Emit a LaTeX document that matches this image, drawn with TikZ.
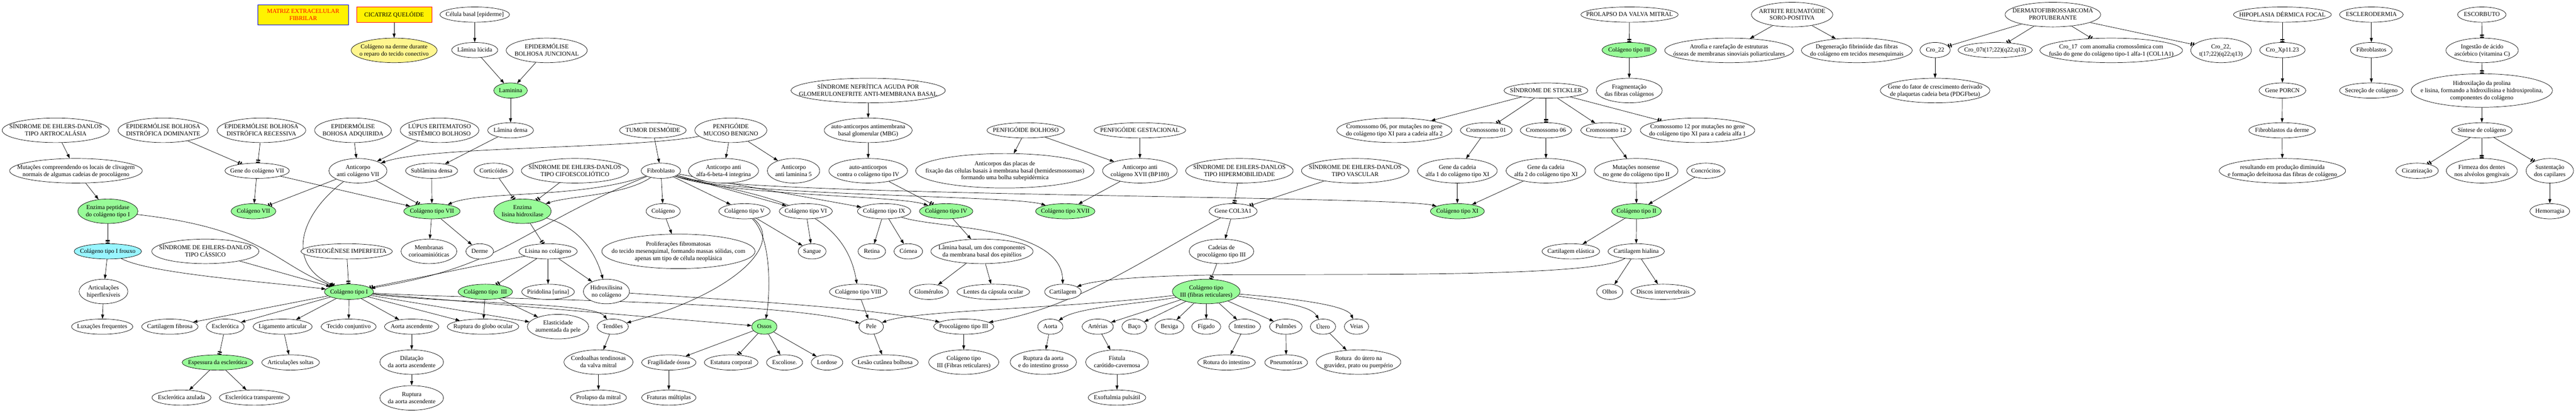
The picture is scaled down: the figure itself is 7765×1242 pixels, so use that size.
\documentclass[tikz,border=0pt]{standalone}
\usepackage{fontspec}
\setmainfont{Liberation Serif}
\usetikzlibrary{shapes.geometric,arrows.meta}
\pgfdeclarelayer{bg}
\pgfsetlayers{bg,main}
\definecolor{pgreen}{HTML}{98FB98}
\definecolor{pcyan}{HTML}{98F5FF}
\definecolor{pkhaki}{HTML}{FFF68F}
\newcommand{\lbl}[1]{\smash{\makebox[0pt]{\raisebox{-5.5pt}{\begin{tabular}{@{}c@{}}#1\end{tabular}}}}}
\newcommand{\nd}[7]{\node[#1,minimum width=#5pt,minimum height=#6pt] (#2) at (#3,#4) {\lbl{#7}};}
\tikzset{
  plainell/.style={shape=ellipse,draw=black,line width=1.1pt,fill=white,inner sep=0pt,font=\fontsize{18.3}{21.5}\selectfont},
  greenell/.style={plainell,fill=pgreen},
  cyanell/.style={plainell,fill=pcyan},
  khakiell/.style={plainell,fill=pkhaki},
  ybox/.style={shape=rectangle,fill=yellow,line width=1.1pt,inner sep=0pt,font=\fontsize{18.3}{21.5}\selectfont},
  arN/.style={-{Triangle[length=13pt,width=9pt]},line width=1.1pt},
  arT/.style={-{Rectangle[length=3.5pt,width=12pt,sep=3pt]Rectangle[length=3.5pt,width=12pt]},line width=1.1pt}
}
\begin{document}
\begin{tikzpicture}[x=1pt,y=-1pt]
\useasboundingbox (0,0) rectangle (7765,1242);
% ---------- title boxes ----------
\nd{ybox,draw=blue,text=red}{matriz}{914}{44.5}{274}{61}{MATRIZ EXTRACELULAR\\FIBRILAR}
\nd{ybox,draw=red}{cicatriz}{1188}{44}{227}{48}{CICATRIZ QUELÓIDE}
\nd{khakiell}{derme1}{1188}{152}{259}{74}{Colágeno na derme durante\\o reparo do tecido conectivo}
% ---------- top rows ----------
\nd{plainell}{celbasal}{1431}{44}{210}{46}{Célula basal [epiderme]}
\nd{plainell}{lamluc}{1431}{151}{139}{46}{Lâmina lúcida}
\nd{plainell}{ebjunc}{1648}{152}{244}{74}{EPIDERMÓLISE\\BOLHOSA JUNCIONAL}
\nd{greenell}{laminina}{1539}{273}{101}{46}{Laminina}
\nd{plainell}{lamdensa}{1539}{393}{138}{46}{Lâmina densa}
\nd{plainell}{sedartro}{168}{393}{323}{74}{SÍNDROME DE EHLERS-DANLOS\\TIPO ARTROCALÁSIA}
\nd{plainell}{ebdom}{492}{393}{272}{74}{EPIDERMÓLISE BOLHOSA\\DISTRÓFICA DOMINANTE}
\nd{plainell}{ebrec}{788}{393}{267}{74}{EPIDERMÓLISE BOLHOSA\\DISTRÓFICA RECESSIVA}
\nd{plainell}{ebadq}{1064}{393}{231}{74}{EPIDERMÓLISE\\BOHOSA ADQUIRIDA}
\nd{plainell}{lupus}{1325}{393}{237}{74}{LÚPUS ERITEMATOSO\\SISTÊMICO BOLHOSO}
\nd{plainell}{tumor}{1968}{393}{201}{46}{TUMOR DESMÓIDE}
\nd{plainell}{pmb}{2203}{393}{217}{74}{PENFIGÓIDE\\MUCOSO BENIGNO}
\nd{plainell}{snef}{2617}{273}{465}{74}{SÍNDROME NEFRÍTICA AGUDA POR\\GLOMERULONEFRITE ANTI-MEMBRANA BASAL}
\nd{plainell}{aambg}{2617}{393}{265}{74}{auto-anticorpos antimembrana\\basal glomerular (MBG)}
\nd{plainell}{pbol}{3092}{393}{234}{46}{PENFIGÓIDE BOLHOSO}
\nd{plainell}{pgest}{3436}{393}{276}{46}{PENFIGÓIDE GESTACIONAL}
% ---------- row 515 ----------
\nd{plainell}{mutcliv}{229}{515}{400}{74}{Mutações compreendendo os locais de clivagem\\normais de algumas cadeias de procolágeno}
\nd{plainell}{genec7}{775}{515}{194}{46}{Gene do colágeno VII}
\nd{plainell}{antic7}{1079}{515}{175}{74}{Anticorpo\\anti colágeno VII}
\nd{plainell}{sublam}{1301}{515}{157}{46}{Sublâmina densa}
\nd{plainell}{cortic}{1488}{515}{118}{46}{Corticóides}
\nd{plainell}{sedcifo}{1733}{515}{323}{74}{SÍNDROME DE EHLERS-DANLOS\\TIPO CIFOESCOLIÓTICO}
\nd{plainell}{fibro}{1992}{515}{119}{46}{Fibroblasto}
\nd{plainell}{aa64}{2181}{515}{211}{74}{Anticorpo anti\\alfa-6-beta-4 integrina}
\nd{plainell}{alam5}{2392}{515}{158}{74}{Anticorpo\\anti laminina 5}
\nd{plainell}{aac4}{2617}{515}{237}{74}{auto-anticorpos\\contra o colágeno tipo IV}
\nd{plainell}{aplacas}{3029}{515}{538}{104}{Anticorpos das placas de\\fixação das células basais à membrana basal (hemidesmossomas)\\formando uma bolha subepidérmica}
\nd{plainell}{ac17}{3436}{515}{225}{74}{Anticorpo anti\\colágeno XVII (BP180)}
\nd{plainell}{sedhiper}{3736}{515}{324}{74}{SÍNDROME DE EHLERS-DANLOS\\TIPO HIPERMOBILIDADE}
\nd{plainell}{sedvasc}{4085}{515}{324}{74}{SÍNDROME DE EHLERS-DANLOS\\TIPO VASCULAR}
\nd{plainell}{genea1}{4393}{515}{240}{74}{Gene da cadeia\\alfa 1 do colágeno tipo XI}
\nd{plainell}{genea2}{4660}{515}{240}{74}{Gene da cadeia\\alfa 2 do colágeno tipo XI}
\nd{plainell}{mutnon}{4932}{515}{252}{74}{Mutações nonsense\\no gene do colágeno tipo II}
\nd{plainell}{concro}{5142}{515}{116}{46}{Concrócitos}
% ---------- row 637 ----------
\nd{greenell}{peptid}{325}{637}{181}{74}{Enzima peptidase\\do colágeno tipo I}
\nd{greenell}{col7}{764}{637}{135}{46}{Colágeno VII}
\nd{greenell}{coltipo7}{1302}{637}{170}{46}{Colágeno tipo VII}
\nd{greenell}{lisinahid}{1575}{637}{173}{74}{Enzima\\lisina hidroxilase}
\nd{plainell}{colageno}{1999}{637}{103}{46}{Colágeno}
\nd{plainell}{col5}{2244}{637}{155}{46}{Colágeno tipo V}
\nd{plainell}{col6}{2429}{637}{160}{46}{Colágeno tipo VI}
\nd{plainell}{col9}{2665}{637}{161}{46}{Colágeno tipo IX}
\nd{greenell}{col4}{2852}{637}{161}{46}{Colágeno tipo IV}
\nd{greenell}{col17}{3211}{637}{179}{46}{Colágeno tipo XVII}
\nd{plainell}{col3a1}{3717}{637}{145}{46}{Gene COL3A1}
\nd{greenell}{col11}{4393}{637}{163}{46}{Colágeno tipo XI}
\nd{greenell}{col2}{4933}{637}{150}{46}{Colágeno tipo II}
% ---------- row 758 ----------
\nd{cyanell}{frouxo}{325}{758}{203}{46}{Colágeno tipo I frouxo}
\nd{plainell}{sedcass}{619}{758}{323}{74}{SÍNDROME DE EHLERS-DANLOS\\TIPO CÁSSICO}
\nd{plainell}{osteo}{1045}{758}{275}{46}{OSTEOGÊNESE IMPERFEITA}
\nd{plainell}{membr}{1293}{758}{168}{74}{Membranas\\corioaminióticas}
\nd{plainell}{derme}{1446}{758}{83}{46}{Derme}
\nd{plainell}{lisina}{1652}{758}{176}{46}{Lisina no colágeno}
\nd{plainell}{prolif}{2045}{758}{462}{104}{Proliferações fibromatosas\\do tecido mesenquimal, formando massas sólidas, com\\apenas um tipo de célula neoplásica}
\nd{plainell}{sangue}{2448}{758}{84}{46}{Sangue}
\nd{plainell}{retina}{2628}{758}{83}{46}{Retina}
\nd{plainell}{cornea}{2738}{758}{86}{46}{Córnea}
\nd{plainell}{lambasal}{2960}{758}{308}{74}{Lâmina basal, um dos componentes\\da membrana basal dos epitélios}
\nd{plainell}{cadeias}{3682}{758}{195}{74}{Cadeias de\\procolágeno tipo III}
\nd{plainell}{cartelas}{4735}{758}{174}{46}{Cartilagem elástica}
\nd{plainell}{carthial}{4932}{758}{170}{46}{Cartilagem hialina}
% ---------- row 880 ----------
\nd{plainell}{articul}{312}{879}{147}{74}{Articulações\\hiperflexíveis}
\nd{greenell}{col1}{1052}{880}{148}{46}{Colágeno tipo I}
\nd{greenell}{col3}{1463}{880}{164}{46}{Colágeno tipo\ \ III}
\nd{plainell}{piridol}{1652}{880}{159}{46}{Piridolina [urina]}
\nd{plainell}{hidroxil}{1828}{879}{139}{74}{Hidroxilisina\\no colágeno}
\nd{plainell}{col8}{2587}{880}{174}{46}{Colágeno tipo VIII}
\nd{plainell}{glomer}{2800}{880}{118}{46}{Glomérulos}
\nd{plainell}{lentes}{2994}{880}{219}{46}{Lentes da cápsula ocular}
\nd{plainell}{cartil}{3204}{880}{110}{46}{Cartilagem}
\nd{greenell}{col3fib}{3636}{879}{204}{74}{Colágeno tipo\\III (fibras reticulares)}
\nd{plainell}{olhos}{4852}{880}{79}{46}{Olhos}
\nd{plainell}{discos}{5013}{880}{194}{46}{Discos intervertebrais}
% ---------- row 985 ----------
\nd{plainell}{luxa}{308}{985}{185}{46}{Luxações frequentes}
\nd{plainell}{cartfib}{512}{985}{170}{46}{Cartilagem fibrosa}
\nd{plainell}{escler}{679}{985}{114}{46}{Esclerótica}
\nd{plainell}{ligam}{852}{985}{178}{46}{Ligamento articular}
\nd{plainell}{tecido}{1051}{985}{166}{46}{Tecido conjuntivo}
\nd{plainell}{aortaasc}{1241}{985}{164}{46}{Aorta ascendente}
\nd{plainell}{rupglobo}{1456}{985}{216}{46}{Ruptura do globo ocular}
\nd{plainell}{elastic}{1682}{985}{185}{74}{Elasticidade\\aumentada da pele}
\nd{plainell}{tendoes}{1847}{985}{94}{46}{Tendões}
\nd{greenell}{ossos}{2304}{985}{76}{46}{Ossos}
\nd{plainell}{pele}{2626}{985}{74}{46}{Pele}
\nd{plainell}{procol}{2905}{985}{181}{46}{Procolágeno tipo III}
\nd{plainell}{aorta}{3166}{985}{76}{46}{Aorta}
\nd{plainell}{arterias}{3309}{985}{94}{46}{Artérias}
\nd{plainell}{baco}{3419}{985}{74}{46}{Baço}
\nd{plainell}{bexiga}{3525}{985}{87}{46}{Bexiga}
\nd{plainell}{figado}{3636}{985}{87}{46}{Fígado}
\nd{plainell}{intest}{3752}{985}{95}{46}{Intestino}
\nd{plainell}{pulm}{3876}{985}{98}{46}{Pulmões}
\nd{plainell}{utero}{3988}{985}{76}{46}{Útero}
\nd{plainell}{veias}{4089}{985}{73}{46}{Veias}
% ---------- row 1093 ----------
\nd{greenell}{espess}{656}{1093}{214}{46}{Espessura da esclerótica}
\nd{plainell}{artsoltas}{876}{1093}{174}{46}{Articulações soltas}
\nd{plainell}{dilat}{1241}{1092}{192}{74}{Dilatação\\da aorta ascendente}
\nd{plainell}{cordo}{1804}{1092}{208}{74}{Cordoalhas tendinosas\\da valva mitral}
\nd{plainell}{fragil}{2016}{1093}{164}{46}{Fragilidade óssea}
\nd{plainell}{estatura}{2204}{1093}{162}{46}{Estatura corporal}
\nd{plainell}{escol}{2365}{1093}{109}{46}{Escoliose.}
\nd{plainell}{lordose}{2493}{1093}{95}{46}{Lordose}
\nd{plainell}{lesao}{2668}{1093}{200}{46}{Lesão cutânea bolhosa}
\nd{plainell}{col3ret}{2905}{1092}{211}{74}{Colágeno tipo\\III (Fibras reticulares)}
\nd{plainell}{rupaorta}{3145}{1092}{200}{74}{Ruptura da aorta\\e do intestino grosso}
\nd{plainell}{fistula}{3367}{1092}{189}{74}{Fístula\\carótido-cavernosa}
\nd{plainell}{rotint}{3697}{1093}{174}{46}{Rotura do intestino}
\nd{plainell}{pneumo}{3877}{1093}{129}{46}{Pneumotórax}
\nd{plainell}{rotutero}{4095}{1092}{255}{74}{Rotura\ \ do útero na\\gravidez, prato ou puerpério}
% ---------- row 1199 ----------
\nd{plainell}{esclaz}{547}{1199}{178}{46}{Esclerótica azulada}
\nd{plainell}{escltr}{767}{1199}{212}{46}{Esclerótica transparente}
\nd{plainell}{ruptasc}{1241}{1200}{192}{74}{Ruptura\\da aorta ascendente}
\nd{plainell}{prolapso}{1804}{1199}{169}{46}{Prolapso da mitral}
\nd{plainell}{fratura}{2016}{1199}{164}{46}{Fraturas múltiplas}
\nd{plainell}{exoft}{3367}{1199}{174}{46}{Exoftalmia pulsátil}
% ---------- right part ----------
\nd{plainell}{pvm}{4912}{44}{293}{46}{PROLAPSO DA VALVA MITRAL}
\nd{greenell}{col3b}{4911}{151}{164}{46}{Colágeno tipo III}
\nd{plainell}{atrofia}{5212}{152}{388}{74}{Atrofia e rarefação de estruturas\\ósseas de membranas sinoviais poliarticulares}
\nd{plainell}{fragm}{4911}{273}{199}{74}{Fragmentação\\das fibras colágenos}
\nd{plainell}{stickler}{4660}{273}{253}{46}{SÍNDROME DE STICKLER}
\nd{plainell}{cr06m}{4203}{393}{347}{74}{Cromossomo 06, por mutações no gene\\do colágeno tipo XI para a cadeia alfa 2}
\nd{plainell}{cr01}{4480}{393}{156}{46}{Cromossomo 01}
\nd{plainell}{cr06}{4660}{393}{155}{46}{Cromossomo 06}
\nd{plainell}{cr12}{4841}{393}{152}{46}{Cromossomo 12}
\nd{plainell}{cr12m}{5117}{393}{345}{74}{Cromossomo 12 por mutações no gene\\do colágeno tipo XI para a cadeia alfa 1}
\nd{plainell}{artrite}{5402}{44}{245}{74}{ARTRITE REUMATÓIDE\\SORO-POSITIVA}
\nd{plainell}{degen}{5597}{152}{334}{74}{Degeneração fibrinóide das fibras\\do colágeno em tecidos mesenquimais}
\nd{plainell}{dermato}{6188}{44}{288}{74}{DERMATOFIBROSSARCOMA\\PROTUBERANTE}
\nd{plainell}{cro22}{5833}{151}{91}{46}{Cro\_22}
\nd{plainell}{cro07}{6014}{151}{224}{46}{Cro\_07t(17;22)(q22;q13)}
\nd{plainell}{cro17}{6364}{152}{430}{74}{Cro\_17\ \ com anomalia cromossômica com\\fusão do gene do colágeno tipo-1 alfa-1 (COL1A1)}
\nd{plainell}{pdgf}{5833}{273}{330}{74}{Gene do fator de crescimento derivado\\de plaquetas cadeia beta (PDGFbeta)}
\nd{plainell}{cro22t}{6695}{152}{183}{74}{Cro\_22,\\t(17;22)(q22;q13)}
\nd{plainell}{hipo}{6880}{44}{295}{46}{HIPOPLASIA DÉRMICA FOCAL}
\nd{plainell}{escdermia}{7148}{44}{192}{46}{ESCLERODERMIA}
\nd{plainell}{escorb}{7481}{44}{146}{46}{ESCORBUTO}
\nd{plainell}{croxp}{6880}{151}{137}{46}{Cro\_Xp11.23}
\nd{plainell}{fibros}{7148}{151}{126}{46}{Fibroblastos}
\nd{plainell}{ingest}{7482}{152}{218}{74}{Ingestão de ácido\\ascórbico (vitamina C)}
\nd{plainell}{porcn}{6880}{273}{141}{46}{Gene PORCN}
\nd{plainell}{secrec}{7148}{273}{192}{46}{Secreção de colágeno}
\nd{plainell}{hidrox}{7481}{273}{426}{101}{Hidroxilação da prolina\\e lisina, formando a hidroxilisina e hidroxiprolina,\\componentes do colágeno}
\nd{plainell}{fibderme}{6879}{393}{201}{46}{Fibroblastos da derme}
\nd{plainell}{sintese}{7481}{393}{183}{46}{Síntese de colágeno}
\nd{plainell}{result}{6880}{515}{381}{74}{resultando em produção diminuída\\e formação defeituosa das fibras de colágeno}
\nd{plainell}{cicat}{7286}{515}{128}{46}{Cicatrização}
\nd{plainell}{firmeza}{7481}{515}{214}{74}{Firmeza dos dentes\\nos alvéolos gengivais}
\nd{plainell}{sust}{7686}{515}{143}{74}{Sustentação\\dos capilares}
\nd{plainell}{hemorr}{7686}{637}{120}{46}{Hemorragia}
% ================= edges =================
\begin{pgfonlayer}{bg}
\fill[white] (0,0) rectangle (7765,1242);
\draw[arN] (cicatriz) -- (derme1);
\draw[arN] (celbasal) -- (lamluc);
\draw[arN] (lamluc) -- (laminina);
\draw[arN] (ebjunc) -- (laminina);
\draw[arN] (laminina) -- (lamdensa);
\draw[arN] (lamdensa) -- (sublam);
\draw[arN] (sedartro) -- (mutcliv);
\draw[arN] (mutcliv) -- (peptid);
\draw[arT] (ebdom) -- (genec7);
\draw[arT] (ebrec) -- (genec7);
\draw[arN] (ebadq) -- (antic7);
\draw[arN] (lupus) -- (antic7);
\draw[arN] (pmb) .. controls (1900,450) and (1300,440) .. (antic7);
\draw[arN] (genec7) -- (col7);
\draw[arN] (genec7) -- (coltipo7);
\draw[arT] (antic7) -- (col7);
\draw[arT] (antic7) -- (coltipo7);
\draw[arT] (antic7) .. controls (900,650) and (860,800) .. (col1);
\draw[arN] (sublam) -- (coltipo7);
\draw[arN] (coltipo7) -- (membr);
\draw[arN] (coltipo7) -- (derme);
\draw[arT] (peptid) -- (frouxo);
\draw[arT] (peptid) .. controls (800,690) and (830,800) .. (col1);
\draw[arN] (frouxo) -- (articul);
\draw[arN] (frouxo) .. controls (450,825) and (800,850) .. (col1);
\draw[arN] (articul) -- (luxa);
\draw[arN] (sedcass) -- (col1);
\draw[arT] (osteo) -- (col1);
\draw[arN] (col1) -- (cartfib);
\draw[arN] (col1) -- (escler);
\draw[arN] (col1) -- (ligam);
\draw[arN] (col1) -- (tecido);
\draw[arN] (col1) -- (aortaasc);
\draw[arN] (col1) -- (rupglobo);
\draw[arN] (col1) -- (elastic);
\draw[arN] (col1) .. controls (1400,918) and (1790,912) .. (tendoes);
\draw[arN] (col1) -- (ossos);
\draw[arN] (col1) .. controls (1500,905) and (2350,905) .. (pele);
\draw[arT] (escler) -- (espess);
\draw[arN] (espess) -- (esclaz);
\draw[arN] (espess) -- (escltr);
\draw[arN] (ligam) -- (artsoltas);
\draw[arN] (aortaasc) -- (dilat);
\draw[arN] (dilat) -- (ruptasc);
\draw[arN] (tumor) -- (fibro);
\draw[arN] (pmb) -- (aa64);
\draw[arN] (pmb) -- (alam5);
\draw[arT] (cortic) -- (lisinahid);
\draw[arT] (sedcifo) -- (lisinahid);
\draw[arN] (fibro) .. controls (1750,600) and (1450,575) .. (coltipo7);
\draw[arN] (fibro) .. controls (1880,590) and (1720,590) .. (lisinahid);
\draw[arN] (fibro) .. controls (1560,690) and (1530,800) .. (col1);
\draw[arN] (fibro) -- (colageno);
\draw[arN] (fibro) -- (col5);
\draw[arN] (fibro) -- (col6);
\draw[arN] (fibro) -- (col9);
\draw[arN] (fibro) .. controls (2200,592) and (2700,588) .. (col4);
\draw[arN] (fibro) .. controls (2200,592) and (3050,588) .. (col17);
\draw[arN] (fibro) .. controls (2200,592) and (4200,590) .. (col11);
\draw[arN] (fibro) .. controls (2250,590) and (2540,600) .. (col8);
\draw[arT] (lisinahid) -- (lisina);
\draw[arN] (lisinahid) .. controls (1760,690) and (1800,780) .. (hidroxil);
\draw[arN] (lisina) -- (piridol);
\draw[arN] (lisina) -- (hidroxil);
\draw[arT] (lisina) -- (col3);
\draw[arT] (lisina) -- (col1);
\draw[arN] (col3) -- (rupglobo);
\draw[arN] (col3) -- (elastic);
\draw[arN] (hidroxil) .. controls (2200,905) and (2600,925) .. (procol);
\draw[arN] (colageno) -- (prolif);
\draw[arN] (col5) -- (sangue);
\draw[arN] (col6) -- (sangue);
\draw[arN] (col5) .. controls (2370,740) and (2200,890) .. (tendoes);
\draw[arN] (col5) .. controls (2330,720) and (2320,900) .. (ossos);
\draw[arN] (col9) -- (retina);
\draw[arN] (col9) -- (cornea);
\draw[arN] (col9) .. controls (2820,690) and (3200,680) .. (cartil);
\draw[arN] (col4) -- (lambasal);
\draw[arN] (lambasal) -- (glomer);
\draw[arN] (lambasal) -- (lentes);
\draw[arN] (col8) -- (pele);
\draw[arN] (snef) -- (aambg);
\draw[arN] (aambg) -- (aac4);
\draw[arT] (aac4) -- (col4);
\draw[arN] (pbol) -- (aplacas);
\draw[arN] (pbol) -- (ac17);
\draw[arN] (pgest) -- (ac17);
\draw[arN] (ac17) -- (col17);
\draw[arT] (sedhiper) -- (col3a1);
\draw[arT] (sedvasc) -- (col3a1);
\draw[arN] (col3a1) -- (cadeias);
\draw[arN] (col3a1) .. controls (3450,780) and (3250,925) .. (procol);
\draw[arT] (cadeias) -- (col3fib);
\draw[arN] (carthial) .. controls (4820,828) and (4300,828) .. (3800,828) .. controls (3450,828) and (3300,845) .. (cartil);
\draw[arN] (col3fib) .. controls (3200,932) and (2760,935) .. (pele);
\draw[arN] (col3fib) .. controls (3450,915) and (3250,925) .. (aorta);
\draw[arN] (col3fib) -- (arterias);
\draw[arN] (col3fib) -- (baco);
\draw[arN] (col3fib) -- (bexiga);
\draw[arN] (col3fib) -- (figado);
\draw[arN] (col3fib) -- (intest);
\draw[arN] (col3fib) -- (pulm);
\draw[arN] (col3fib) .. controls (3850,910) and (3950,920) .. (utero);
\draw[arN] (col3fib) .. controls (3900,900) and (4060,920) .. (veias);
\draw[arN] (pele) -- (lesao);
\draw[arN] (procol) -- (col3ret);
\draw[arN] (aorta) -- (rupaorta);
\draw[arN] (arterias) -- (fistula);
\draw[arN] (fistula) -- (exoft);
\draw[arN] (intest) -- (rotint);
\draw[arN] (pulm) -- (pneumo);
\draw[arN] (utero) -- (rotutero);
\draw[arN] (tendoes) -- (cordo);
\draw[arN] (cordo) -- (prolapso);
\draw[arN] (ossos) -- (fragil);
\draw[arT] (ossos) -- (estatura);
\draw[arN] (ossos) -- (escol);
\draw[arN] (ossos) -- (lordose);
\draw[arN] (fragil) -- (fratura);
\draw[arT] (pvm) -- (col3b);
\draw[arN] (col3b) -- (fragm);
\draw[arN] (stickler) -- (cr06m);
\draw[arT] (stickler) -- (cr01);
\draw[arT] (stickler) -- (cr06);
\draw[arN] (stickler) -- (cr12);
\draw[arT] (stickler) -- (cr12m);
\draw[arN] (cr01) -- (genea1);
\draw[arN] (cr06) -- (genea2);
\draw[arN] (cr12) -- (mutnon);
\draw[arN] (genea1) -- (col11);
\draw[arN] (genea2) -- (col11);
\draw[arN] (mutnon) -- (col2);
\draw[arN] (concro) -- (col2);
\draw[arN] (col2) -- (cartelas);
\draw[arN] (col2) -- (carthial);
\draw[arN] (carthial) -- (olhos);
\draw[arN] (carthial) -- (discos);
\draw[arN] (artrite) -- (atrofia);
\draw[arN] (artrite) -- (degen);
\draw[arT] (dermato) -- (cro22);
\draw[arT] (dermato) -- (cro07);
\draw[arT] (dermato) -- (cro17);
\draw[arT] (dermato) -- (cro22t);
\draw[arN] (cro22) -- (pdgf);
\draw[arT] (hipo) -- (croxp);
\draw[arN] (croxp) -- (porcn);
\draw[arN] (porcn) -- (fibderme);
\draw[arN] (fibderme) -- (result);
\draw[arN] (escdermia) -- (fibros);
\draw[arN] (fibros) -- (secrec);
\draw[arT] (escorb) -- (ingest);
\draw[arT] (ingest) -- (hidrox);
\draw[arN] (hidrox) -- (sintese);
\draw[arT] (sintese) -- (cicat);
\draw[arT] (sintese) -- (firmeza);
\draw[arT] (sintese) -- (sust);
\draw[arN] (sust) -- (hemorr);
\end{pgfonlayer}
\end{tikzpicture}
\end{document}
